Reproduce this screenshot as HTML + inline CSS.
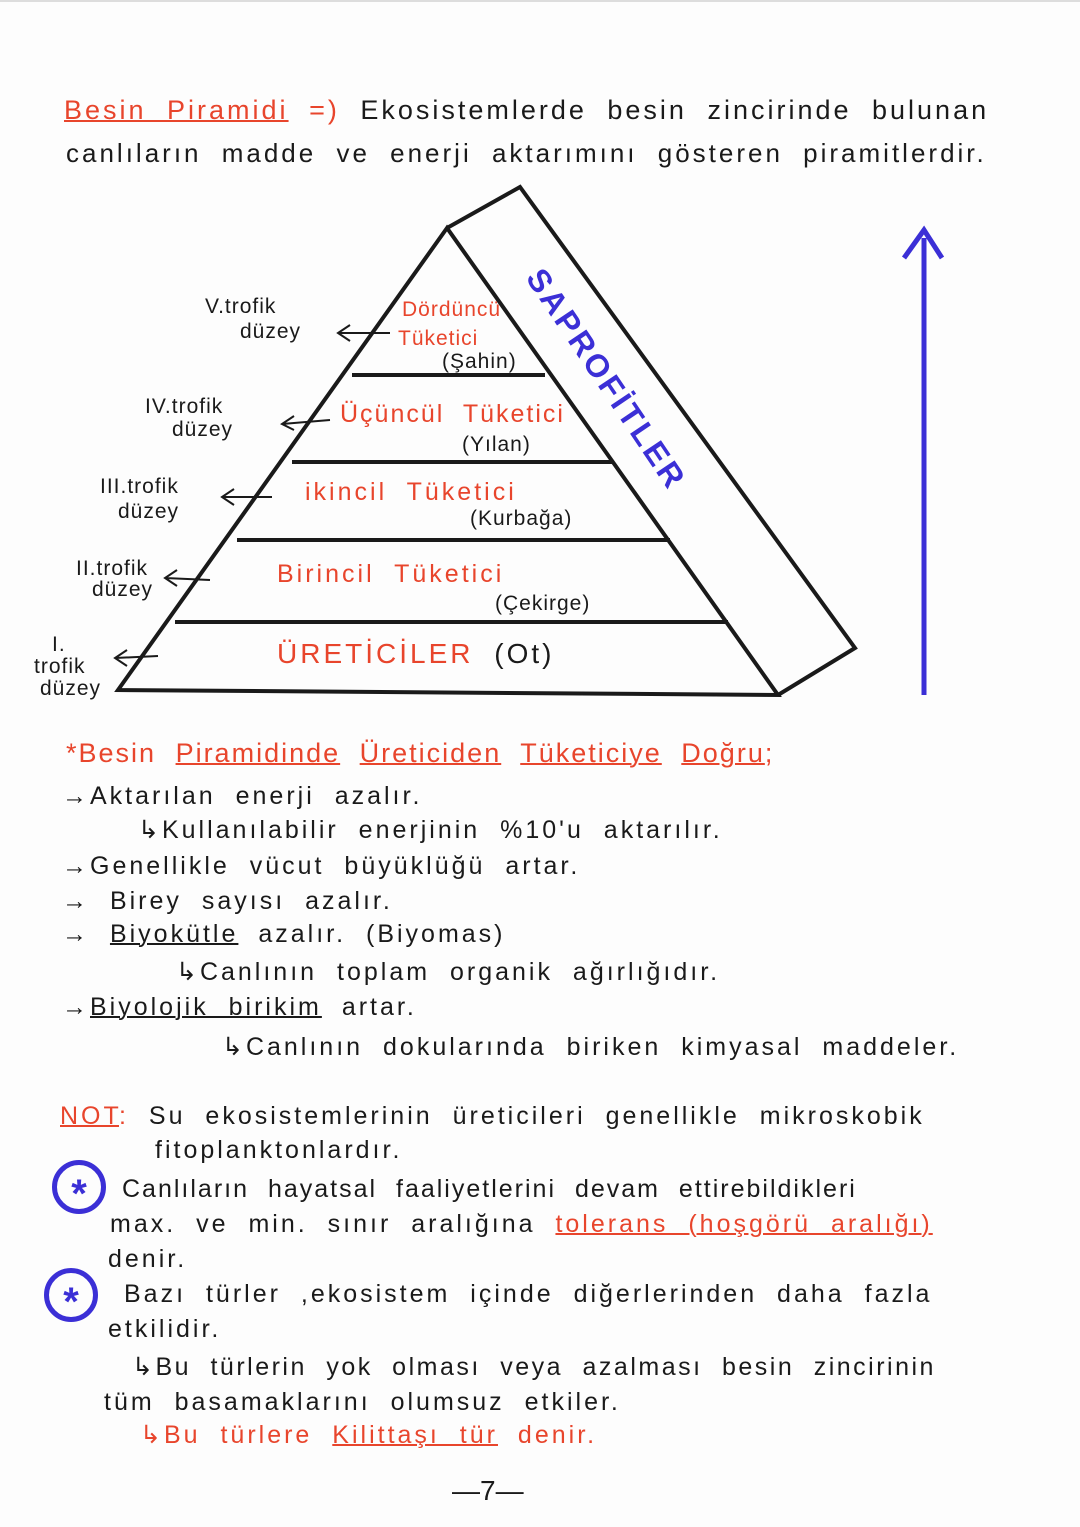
<!DOCTYPE html>
<html><head><meta charset="utf-8">
<style>
body{margin:0;background:#fff;}
#p{position:relative;width:1080px;height:1527px;background:#fdfdfd;overflow:hidden;font-family:"Liberation Sans",sans-serif;color:#1a1a1a;}
.t{position:absolute;white-space:nowrap;font-size:25px;letter-spacing:3px;word-spacing:10px;}
.r{color:#e8452c;}
.s{font-size:21px;letter-spacing:1px;word-spacing:0;}
u{text-decoration-thickness:2px;}
.c{width:44px;height:44px;border:5px solid #3b2fd6;border-radius:50%;color:#3b2fd6;font-size:40px;font-weight:bold;text-align:center;line-height:58px;letter-spacing:0}
</style></head><body><div id="p">
<div class="t" style="left:0;top:0;width:1080px;height:2px;background:#ddd"></div>

<div class="t" style="left:64px;top:95px;font-size:27px"><span class="r"><u>Besin Piramidi</u> =)</span> Ekosistemlerde besin zincirinde bulunan</div>
<div class="t" style="left:66px;top:138px;font-size:26px">canlıların madde ve enerji aktarımını gösteren piramitlerdir.</div>

<svg style="position:absolute;left:0;top:0" width="1080" height="760">
<g fill="none" stroke="#1a1a1a" stroke-width="4">
<polygon points="447,228 118,690 778,695"/>
<polyline points="447,228 520,187 855,648 778,695"/>
<line x1="352" y1="375" x2="545" y2="375"/>
<line x1="292" y1="462" x2="612" y2="462"/>
<line x1="237" y1="540" x2="670" y2="540"/>
<line x1="175" y1="622" x2="728" y2="622"/>
<path d="M338 333 L390 333 M350 325 L338 333 L350 341" stroke-width="2"/>
<path d="M282 424 L330 420 M294 416 L282 424 L294 430" stroke-width="2"/>
<path d="M222 497 L272 497 M234 489 L222 497 L234 505" stroke-width="2"/>
<path d="M165 578 L210 580 M177 570 L165 578 L177 586" stroke-width="2"/>
<path d="M115 658 L158 656 M127 650 L115 658 L127 666" stroke-width="2"/>
</g>
<g stroke="#3b2fd6" stroke-width="5" fill="none"><line x1="924" y1="238" x2="924" y2="695"/><path d="M904 258 L924 230 L942 258"/></g>
<text x="0" y="0" transform="translate(525,278) rotate(56)" font-family="Liberation Sans" font-size="32" fill="#3b2fd6" letter-spacing="3" font-weight="bold">SAPROFİTLER</text>
</svg>

<div class="t s" style="left:205px;top:295px">V.trofik</div>
<div class="t s" style="left:240px;top:320px">düzey</div>
<div class="t s" style="left:145px;top:395px">IV.trofik</div>
<div class="t s" style="left:172px;top:418px">düzey</div>
<div class="t s" style="left:100px;top:475px">III.trofik</div>
<div class="t s" style="left:118px;top:500px">düzey</div>
<div class="t s" style="left:76px;top:557px">II.trofik</div>
<div class="t s" style="left:92px;top:578px">düzey</div>
<div class="t s" style="left:52px;top:633px">I.</div>
<div class="t s" style="left:34px;top:655px">trofik</div>
<div class="t s" style="left:40px;top:677px">düzey</div>

<div class="t r s" style="left:402px;top:298px">Dördüncü</div>
<div class="t r s" style="left:398px;top:327px">Tüketici</div>
<div class="t s" style="left:442px;top:350px">(Şahin)</div>
<div class="t r" style="left:340px;top:400px;letter-spacing:2px">Üçüncül Tüketici</div>
<div class="t s" style="left:462px;top:433px">(Yılan)</div>
<div class="t r" style="left:305px;top:478px">ikincil Tüketici</div>
<div class="t s" style="left:470px;top:507px">(Kurbağa)</div>
<div class="t r" style="left:277px;top:560px">Birincil Tüketici</div>
<div class="t s" style="left:495px;top:592px">(Çekirge)</div>
<div class="t" style="left:277px;top:638px;font-size:28px"><span class="r">ÜRETİCİLER</span> (Ot)</div>

<div class="t r" style="left:66px;top:738px;font-size:27px;letter-spacing:2px">*Besin <u>Piramidinde</u> <u>Üreticiden</u> <u>Tüketiciye</u> <u>Doğru</u>;</div>
<div class="t" style="left:62px;top:782px">→Aktarılan enerji azalır.</div>
<div class="t" style="left:138px;top:815px">↳Kullanılabilir enerjinin %10'u aktarılır.</div>
<div class="t" style="left:62px;top:852px">→Genellikle vücut büyüklüğü artar.</div>
<div class="t" style="left:62px;top:887px">→ Birey sayısı azalır.</div>
<div class="t" style="left:62px;top:920px">→ <u>Biyokütle</u> azalır. (Biyomas)</div>
<div class="t" style="left:176px;top:957px">↳Canlının toplam organik ağırlığıdır.</div>
<div class="t" style="left:62px;top:993px">→<u>Biyolojik birikim</u> artar.</div>
<div class="t" style="left:222px;top:1032px">↳Canlının dokularında biriken kimyasal maddeler.</div>

<div class="t" style="left:60px;top:1102px"><span class="r"><u>NOT</u>:</span> Su ekosistemlerinin üreticileri genellikle mikroskobik</div>
<div class="t" style="left:155px;top:1136px">fitoplanktonlardır.</div>
<div class="t c" style="left:52px;top:1160px">*</div>
<div class="t" style="left:122px;top:1175px;letter-spacing:2px">Canlıların hayatsal faaliyetlerini devam ettirebildikleri</div>
<div class="t" style="left:110px;top:1210px">max. ve min. sınır aralığına <span class="r"><u>tolerans (hoşgörü aralığı)</u></span></div>
<div class="t" style="left:108px;top:1245px">denir.</div>
<div class="t c" style="left:44px;top:1268px">*</div>
<div class="t" style="left:124px;top:1280px">Bazı türler ,ekosistem içinde diğerlerinden daha fazla</div>
<div class="t" style="left:108px;top:1315px">etkilidir.</div>
<div class="t" style="left:132px;top:1352px;letter-spacing:2.5px">↳Bu türlerin yok olması veya azalması besin zincirinin</div>
<div class="t" style="left:104px;top:1388px">tüm basamaklarını olumsuz etkiler.</div>
<div class="t r" style="left:140px;top:1420px">↳Bu türlere <u>Kilittaşı tür</u> denir.</div>
<div class="t" style="left:452px;top:1475px;font-size:28px;letter-spacing:0">—7—</div>
</div></body></html>
